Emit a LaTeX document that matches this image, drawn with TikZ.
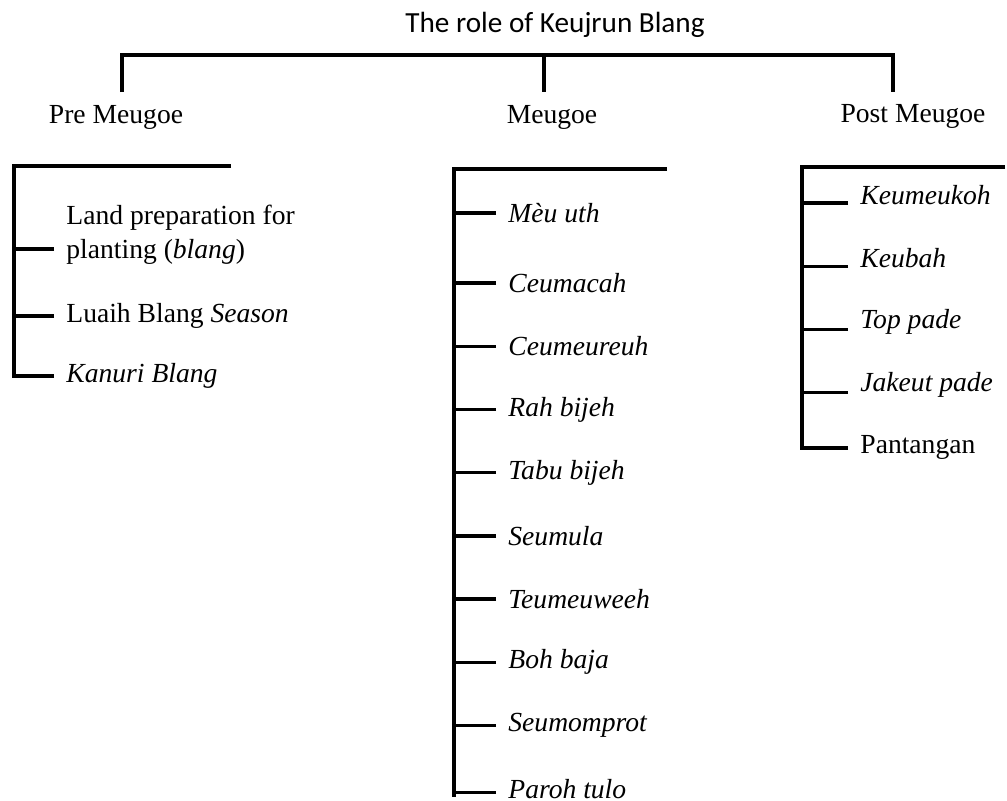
\documentclass[tikz,border=0pt]{standalone}
\usepackage{fontspec}
\setmainfont{Liberation Serif}
\newfontfamily\titlefont{Carlito}
\usetikzlibrary{positioning}
\newcommand\bodysize{\fontsize{13.8}{17}\selectfont}

\begin{document}
\begin{tikzpicture}[x=0.5pt,y=-0.5pt,node distance=31.6pt,on grid,
    branch/.style={line width=1.7pt},
    head/.style={font=\bodysize},
    item/.style={font=\bodysize\itshape,text width=80pt,align=left,
      inner xsep=6pt,inner ysep=0pt,
      execute at begin node={\spaceskip=0pt\xspaceskip=0pt}}]
   \useasboundingbox (0,0) rectangle (1007,800);
   \node[font=\titlefont\fontsize{14.6}{17}\selectfont] (title) at (555,25) {The role of Keujrun Blang};
   \node[head] (pre)  at (116,117) {Pre Meugoe};
   \node[head] (mid)  at (552,117) {Meugoe};
   \node[head] (post) at (913,116) {Post Meugoe};
   \coordinate (barmid)   at (544,55);
   \coordinate (prehook)  at (122,92);
   \coordinate (midhook)  at (544,92);
   \coordinate (posthook) at (893,92);
   \draw[branch] (prehook) |- (barmid) -| (posthook);
   \draw[branch] (barmid) -- (midhook);
   % pre meugoe
   \node[item,text width=125pt,font=\bodysize,anchor=west] (l1) at (54,235)
      {Land preparation for\\ planting (\textit{blang})};
   \node[item,text width=125pt,font=\bodysize] (l2) [below=40.5pt of l1] {Luaih Blang \textit{Season}};
   \node[item,text width=125pt] (l3) [below=30pt of l2] {Kanuri Blang};
   \coordinate (pretop) at (14,166);
   \coordinate (preend) at (231,166);
   \draw[branch] (preend) -- (pretop) -- ([yshift=-1pt]pretop |- l3.west);
   \path[branch]
    ([yshift=-7pt]l1.west) edge ([yshift=-7pt]pretop |- l1.west)
    (l2.west) edge (pretop |- l2.west)
    (l3.west) edge (pretop |- l3.west);
   % meugoe
   \node[item,anchor=west] (m1) at (496,213) {Mèu uth};
   \node[item] (m2)  [below=35pt of m1] {Ceumacah};
   \node[item] (m3)  [below=of m2] {Ceumeureuh};
   \node[item] (m4)  [below=of m3] {Rah bijeh};
   \node[item] (m5)  [below=of m4] {Tabu bijeh};
   \node[item] (m6)  [below=of m5] {Seumula};
   \node[item] (m7)  [below=of m6] {Teumeuweeh};
   \node[item] (m8)  [below=of m7] {Boh baja};
   \node[item] (m9)  [below=of m8] {Seumomprot};
   \node[item] (m10) [below=of m9] {Paroh tulo};
   \coordinate (midtop) at (454,169);
   \coordinate (midend) at (667,169);
   \draw[branch] (midend) -- (midtop) -- ([yshift=-4pt]midtop |- m10.west);
   \path[branch]
    (m1.west) edge (midtop |- m1.west)
    (m2.west) edge (midtop |- m2.west)
    (m3.west) edge (midtop |- m3.west)
    (m4.west) edge (midtop |- m4.west)
    (m5.west) edge (midtop |- m5.west)
    (m6.west) edge (midtop |- m6.west)
    (m7.west) edge (midtop |- m7.west)
    (m8.west) edge (midtop |- m8.west)
    (m9.west) edge (midtop |- m9.west)
    ([yshift=-2pt]m10.west) edge ([yshift=-2pt]midtop |- m10.west);
   % post meugoe
   \node[item,anchor=west] (p1) at (848,195) {Keumeukoh};
   \node[item] (p2) [below=of p1] {Keubah};
   \node[item] (p3) [below=of p2] {Top pade};
   \node[item] (p4) [below=of p3] {Jakeut pade};
   \node[item,font=\bodysize] (p5) [below=of p4] {Pantangan};
   \coordinate (posttop) at (802,167);
   \coordinate (postend) at (1005,167);
   \draw[branch] (postend) -- (posttop) -- ([yshift=-1pt]posttop |- p5.west);
   \path[branch]
    ([yshift=-4pt]p1.west) edge ([yshift=-4pt]posttop |- p1.west)
    ([yshift=-4pt]p2.west) edge ([yshift=-4pt]posttop |- p2.west)
    ([yshift=-4pt]p3.west) edge ([yshift=-4pt]posttop |- p3.west)
    ([yshift=-4pt]p4.west) edge ([yshift=-4pt]posttop |- p4.west)
    (p5.west) edge (posttop |- p5.west);
\end{tikzpicture}
\end{document}
